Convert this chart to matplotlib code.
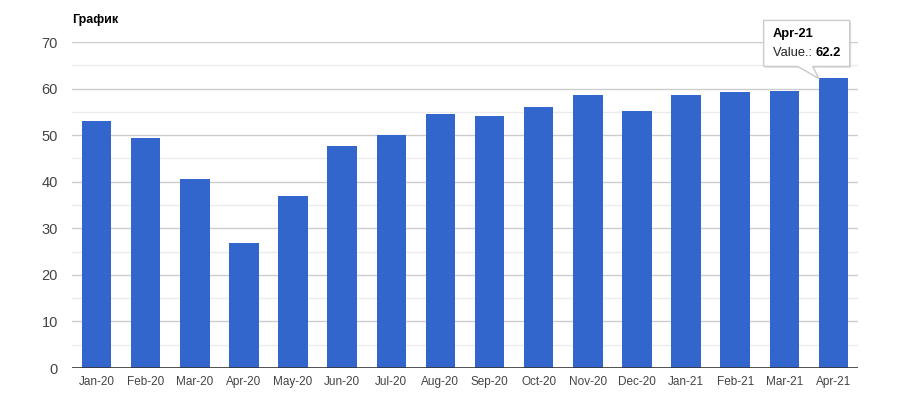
import matplotlib.pyplot as plt
from matplotlib.patches import Polygon
from matplotlib.transforms import IdentityTransform

# data
months = ['Jan-20', 'Feb-20', 'Mar-20', 'Apr-20', 'May-20', 'Jun-20', 'Jul-20', 'Aug-20',
          'Sep-20', 'Oct-20', 'Nov-20', 'Dec-20', 'Jan-21', 'Feb-21', 'Mar-21', 'Apr-21']
values = [53.1, 49.5, 40.7, 26.8, 36.9, 47.7, 50.1, 54.5,
          54.1, 56.1, 58.6, 55.1, 58.6, 59.3, 59.5, 62.2]
y_ticks = [0, 10, 20, 30, 40, 50, 60, 70]
minor_ticks = [5, 15, 25, 35, 45, 55, 65]

plt.rcParams['font.family'] = ['Liberation Sans', 'DejaVu Sans']

fig = plt.figure(figsize=(9, 3.96), dpi=100)
ax = fig.add_axes([0.08, 0.0707, 0.8733, 0.823])

x = range(len(months))
ax.bar(x, values, width=0.6, color='#3366cc', zorder=3)
ax.set_xlim(-0.5, len(months) - 0.5)
ax.set_ylim(0, 70)

ax.set_yticks(y_ticks)
ax.set_yticks(minor_ticks, minor=True)
ax.set_xticks(list(x))
ax.set_xticklabels(months)
for v in y_ticks[1:]:
    ax.axhline(v, color='#cccccc', lw=1, zorder=1)
for v in minor_ticks:
    ax.axhline(v, color='#ebebeb', lw=1, zorder=1)
ax.axhline(0, color='#333333', lw=1.2, zorder=4)

for s in ax.spines.values():
    s.set_visible(False)
ax.tick_params(axis='both', which='both', length=0)
ax.tick_params(axis='x', labelsize=8.5, colors='#444444', pad=6)
ax.tick_params(axis='y', labelsize=10.5, colors='#444444', pad=10)

fig.text(72 / 900, 1 - 20 / 396, 'График', fontsize=9, fontweight='bold', color='#000000', va='center')

# tooltip on the last bar
fig.canvas.draw()
tx, ty = ax.transData.transform((len(months) - 1 - 0.3, values[-1]))
left, right = tx - 55, tx + 31
bottom, top = ty + 12, ty + 58
pts = [(left, bottom), (tx - 21, bottom), (tx, ty), (tx - 6, bottom),
       (right, bottom), (right, top), (left, top)]
shadow = Polygon([(px + 1.5, py - 1.5) for px, py in pts], closed=True, transform=IdentityTransform(),
                 facecolor='#cccccc', edgecolor='none', alpha=0.6, zorder=9)
box = Polygon(pts, closed=True, transform=IdentityTransform(),
              facecolor='white', edgecolor='#cccccc', lw=1, zorder=10)
fig.patches.extend([shadow, box])
fig.text((left + 9) / 900, (top - 14) / 396, months[-1], fontsize=9.3, fontweight='bold',
         color='#000000', va='center', zorder=11)
t1 = fig.text((left + 9) / 900, (top - 33) / 396, 'Value.: ', fontsize=9.3,
              color='#222222', va='center', zorder=11)
fig.canvas.draw()
bb = t1.get_window_extent()
fig.text(bb.x1 / 900, (top - 33) / 396, '%.1f' % values[-1], fontsize=9.3, fontweight='bold',
         color='#000000', va='center', zorder=11)

plt.savefig('out.png', dpi=100)
